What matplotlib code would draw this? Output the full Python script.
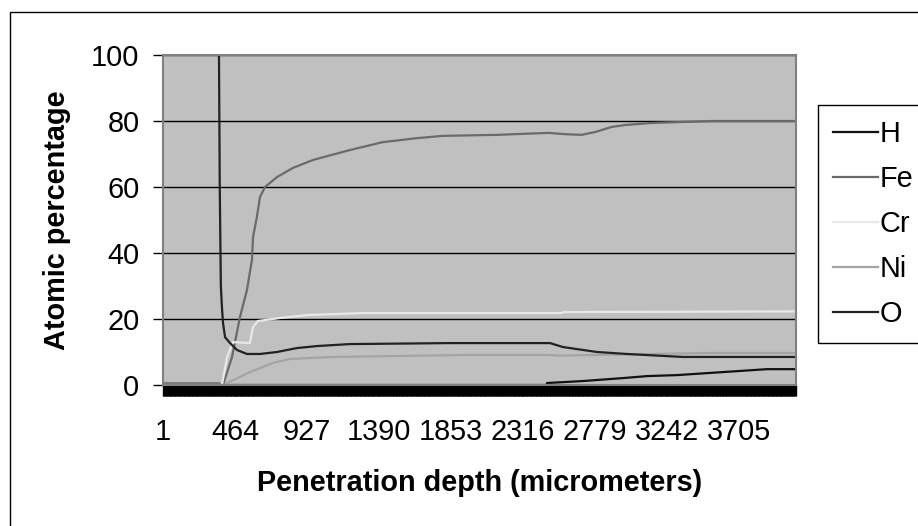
import matplotlib.pyplot as plt
from matplotlib.patches import Rectangle

plt.rcParams['font.family'] = ['Liberation Sans', 'DejaVu Sans']

# depth index (micrometers) and atomic percentage
h_depth = [1, 2470, 2471, 2702, 2960, 3115, 3308, 3500, 3694, 3887, 4072]
h_vals = [0, 0, 0.6, 1.2, 2.1, 2.7, 3.0, 3.6, 4.2, 4.8, 4.8]

fe_depth = [1, 360, 387, 445, 496, 541, 573, 580, 605, 625, 657, 734, 837,
            966, 1203, 1415, 1634, 1801, 2148, 2480, 2590, 2693, 2783,
            2886, 2976, 3143, 3529, 4072]
fe_vals = [0.5, 0.5, 0, 8.5, 20.6, 28.8, 37.9, 44.8, 51, 57, 60, 63, 65.8,
           68.2, 71.2, 73.6, 74.8, 75.5, 75.8, 76.4, 76.0, 75.8, 76.7,
           78.2, 78.8, 79.4, 80, 80]

cr_depth = [1, 380, 413, 451, 560, 580, 612, 753, 927, 1287, 2560, 2580, 4072]
cr_vals = [0, 0, 8.5, 13, 12.7, 17.6, 19.4, 20.3, 21.2, 21.8, 21.8, 22.1, 22.3]

ni_depth = [1, 400, 413, 560, 708, 818, 1094, 1955, 2480, 2560, 3500, 4072]
ni_vals = [0, 0, 0.6, 3.9, 6.7, 7.9, 8.5, 9.1, 9.1, 8.9, 9.7, 9.7]

o_depth = [361, 366, 373, 380, 387, 400, 432, 477, 541, 625, 734, 863, 991,
           1203, 1847, 2490, 2573, 2792, 2985, 3345, 4072]
o_vals = [100, 60, 30, 23.6, 18.8, 14.5, 12.7, 10.6, 9.4, 9.4, 10.0, 11.2,
          11.8, 12.4, 12.7, 12.7, 11.5, 10.0, 9.4, 8.5, 8.5]

tick_pos = [1, 464, 927, 1390, 1853, 2316, 2779, 3242, 3705]

fs = 20.8

fig = plt.figure(figsize=(9.18, 5.26), dpi=100)
ax = fig.add_axes([163 / 918, 1 - 385 / 526, 633 / 918, 330 / 526])
ax.set_facecolor('#c0c0c0')

# chart area border (runs off the right and bottom edge)
fig.patches.append(Rectangle((10 / 918, -0.2), 1.2, 1 - 12 / 526 + 0.2,
                             transform=fig.transFigure, fill=False,
                             edgecolor='black', linewidth=1))

ax.plot(h_depth, h_vals, color='#111111', lw=1.6, label='H')
ax.plot(fe_depth, fe_vals, color='#6a6a6a', lw=1.6, label='Fe')
ax.plot(cr_depth, cr_vals, color='#e8e8e8', lw=1.6, label='Cr')
ax.plot(ni_depth, ni_vals, color='#a4a4a4', lw=1.6, label='Ni')
ax.plot(o_depth, o_vals, color='#222222', lw=1.6, label='O')

ax.set_xlim(1, 4072)
ax.set_ylim(0, 100)
ax.set_yticks([0, 20, 40, 60, 80, 100])
ax.grid(axis='y', color='black', lw=1)
ax.set_axisbelow(True)

ax.set_xticks(tick_pos)
ax.set_xticklabels([str(t) for t in tick_pos])
ax.set_xticks(range(1, 4072, 4), minor=True)
ax.tick_params(axis='x', which='both', length=8, width=1, color='black',
               direction='out', labelsize=fs, pad=16)
ax.tick_params(axis='y', length=7, width=1, color='black', direction='out',
               labelsize=fs, pad=10)

for s in ax.spines.values():
    s.set_color('#808080')
    s.set_linewidth(1.5)

ax.set_ylabel('Atomic percentage', fontsize=fs, fontweight='bold',
              ha='center', va='center')
ax.yaxis.set_label_coords((57 - 163) / 633, 0.5)
ax.set_xlabel('Penetration depth (micrometers)', fontsize=fs,
              fontweight='bold', ha='center', va='center')
ax.xaxis.set_label_coords((480 - 163) / 633, (385 - 483) / 330)

# legend runs past the right edge, as in the original
leg = fig.legend(loc='upper left', bbox_to_anchor=(818 / 918, 1 - 105 / 526),
                 fontsize=fs, frameon=True, fancybox=False, framealpha=1,
                 borderaxespad=0, handlelength=1.55, handletextpad=0.05,
                 labelspacing=0.59, borderpad=0.52)
leg.get_frame().set_edgecolor('black')
leg.get_frame().set_linewidth(1)

fig.savefig('out.png', dpi=100)
